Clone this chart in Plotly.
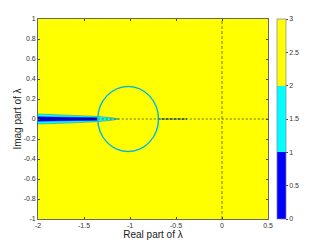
import plotly.graph_objects as go

# ---- data ----
x_range = [-2.0, 0.5]
y_range = [-1.0, 1.0]
background_level = [[3]]                 # region value (yellow, level 2-3)
level_edges = [0, 1, 2, 3]
level_colors = ["#0000FF", "#00FFFF", "#FFFF00"]

x_ticks = [-2, -1.5, -1, -0.5, 0, 0.5]
x_tick_labels = ["-2", "-1.5", "-1", "-0.5", "0", "0.5"]
y_ticks = [-1, -0.8, -0.6, -0.4, -0.2, 0, 0.2, 0.4, 0.6, 0.8, 1]
y_tick_labels = ["-1", "-0.8", "-0.6", "-0.4", "-0.2", "0", "0.2", "0.4", "0.6", "0.8", "1"]
cb_ticks = [0, 0.5, 1, 1.5, 2, 2.5, 3]
cb_tick_labels = ["0", "0.5", "1", "1.5", "2", "2.5", "3"]

# cyan wedge (level 1-2) along the negative real axis
wedge_x = [-2.0, -1.6, -1.35, -1.2, -1.12]
wedge_half = [0.05, 0.038, 0.026, 0.013, 0.0]
# blue core (level 0-1)
core_x = [-2.0, -1.6, -1.35]
core_half = [0.022, 0.018, 0.012]

# circle of the stability boundary
circle_cx = -1.02
circle_rx = 0.33
circle_ry = 0.325

# dotted real-axis segments
axis_dot_x = [-1.35, 0.5]
axis_dark_x = [-0.7, -0.38]
imag_axis_x = [0, 0]
imag_axis_y = [-1, 1]

font = "Liberation Sans, Arial, Helvetica, sans-serif"

colorscale = []
for i, c in enumerate(level_colors):
    lo = (level_edges[i] - level_edges[0]) / (level_edges[-1] - level_edges[0])
    hi = (level_edges[i + 1] - level_edges[0]) / (level_edges[-1] - level_edges[0])
    colorscale += [[lo, c], [hi, c]]

fig = go.Figure()
fig.add_trace(go.Heatmap(
    z=background_level, x=x_range, y=y_range,
    zmin=level_edges[0], zmax=level_edges[-1], colorscale=colorscale,
    hoverinfo="skip",
    colorbar=dict(
        x=1.039, xanchor="left", xpad=0, ypad=0, y=0.5, yanchor="middle",
        len=1.0, lenmode="fraction", thickness=9, thicknessmode="pixels",
        outlinecolor="#8080a0", outlinewidth=0.7,
        tickvals=cb_ticks, ticktext=cb_tick_labels, ticks="outside", ticklen=2,
        tickcolor="#444", tickfont=dict(size=7, color="#333", family=font),
    ),
))

def band(xs, hs):
    px = list(xs) + list(xs)[::-1]
    py = list(hs) + [-h for h in list(hs)[::-1]]
    return px, py

wx, wy = band(wedge_x, wedge_half)
fig.add_trace(go.Scatter(x=wx, y=wy, fill="toself", fillcolor="#00FFFF",
                         mode="lines", line=dict(color="#2a7a8a", width=0.5),
                         hoverinfo="skip", showlegend=False))
cx_, cy_ = band(core_x, core_half)
fig.add_trace(go.Scatter(x=cx_, y=cy_, fill="toself", fillcolor="#0000FF",
                         mode="lines", line=dict(color="#0000a0", width=0.5),
                         hoverinfo="skip", showlegend=False))
fig.add_trace(go.Scatter(x=[core_x[0], core_x[-1]], y=[0, 0], mode="lines",
                         line=dict(color="#000080", width=1.2),
                         hoverinfo="skip", showlegend=False))
fig.add_trace(go.Scatter(x=axis_dot_x, y=[0, 0], mode="lines",
                         line=dict(color="#6b6b20", width=1.0, dash="2px,2px"),
                         hoverinfo="skip", showlegend=False))
fig.add_trace(go.Scatter(x=axis_dark_x, y=[0, 0], mode="lines",
                         line=dict(color="#1f5050", width=1.3, dash="3px,1px"),
                         hoverinfo="skip", showlegend=False))
fig.add_trace(go.Scatter(x=imag_axis_x, y=imag_axis_y, mode="lines",
                         line=dict(color="#404020", width=0.7, dash="3px,2px"),
                         hoverinfo="skip", showlegend=False))

fig.add_shape(type="circle", xref="x", yref="y",
              x0=circle_cx - circle_rx, x1=circle_cx + circle_rx,
              y0=-circle_ry, y1=circle_ry,
              line=dict(color="#20F0F0", width=1.6), layer="above")
fig.add_shape(type="circle", xref="x", yref="y",
              x0=circle_cx - circle_rx, x1=circle_cx + circle_rx,
              y0=-circle_ry, y1=circle_ry,
              line=dict(color="#305050", width=0.5), layer="above")

axis_common = dict(
    showgrid=False, zeroline=False, ticks="inside", ticklen=2,
    tickcolor="#444", mirror="ticks", showline=True, linecolor="#666",
    linewidth=0.7, tickfont=dict(size=7, color="#333", family=font),
)
fig.update_xaxes(range=x_range, tickvals=x_ticks, ticktext=x_tick_labels,
                 title=dict(text="Real part of λ", font=dict(size=10, color="#222", family=font),
                            standoff=2),
                 **axis_common)
fig.update_yaxes(range=y_range, tickvals=y_ticks, ticktext=y_tick_labels,
                 title=dict(text="Imag part of λ", font=dict(size=10, color="#222", family=font),
                            standoff=0),
                 **axis_common)

# page body adds an 8px offset, so the figure is sized to fit the window
fig.update_layout(
    width=319, height=238,
    margin=dict(l=30, r=59, t=11, b=27, pad=0, autoexpand=False),
    paper_bgcolor="white", plot_bgcolor="white",
    showlegend=False,
)
fig.write_html("out.html")
